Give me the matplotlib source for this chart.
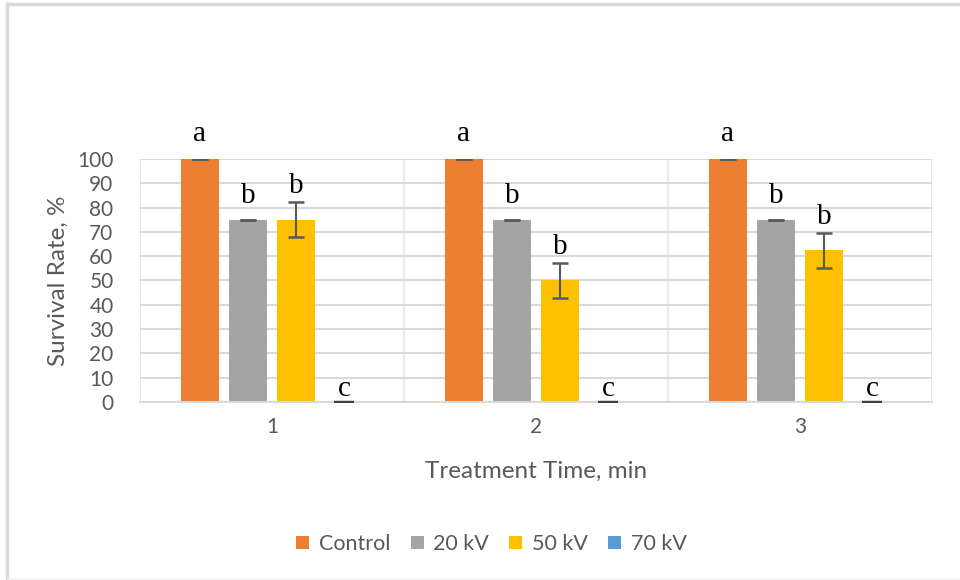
import matplotlib
matplotlib.use("Agg")
import matplotlib.pyplot as plt
from matplotlib.patches import Patch
import numpy as np

categories = ["1", "2", "3"]
series = ["Control", "20 kV", "50 kV", "70 kV"]
control = [100, 100, 100]
kv20 = [75, 75, 75]
kv50 = [75, 50, 62.5]
kv70 = [0, 0, 0]
err_control = [0, 0, 0]
err_kv20 = [0, 0, 0]
err_kv50 = [7.2, 7.2, 7.2]
err_kv70 = [0, 0, 0]
letters_control = ["a", "a", "a"]
letters_kv20 = ["b", "b", "b"]
letters_kv50 = ["b", "b", "b"]
letters_kv70 = ["c", "c", "c"]
yticks = [0, 10, 20, 30, 40, 50, 60, 70, 80, 90, 100]

colors = ["#ED7D31", "#A5A5A5", "#FFC000", "#5B9BD5"]
text_color = "#595959"
grid_color = "#D9D9D9"

plt.rcParams['font.family'] = ['Lato', 'DejaVu Sans']

fig = plt.figure(figsize=(9.6, 5.8), dpi=100)
# outer chart frame
fig.add_artist(plt.Line2D([0.0073, 0.0073], [0, 0.993], color="#D9D9D9", lw=2.5, transform=fig.transFigure))
fig.add_artist(plt.Line2D([0.0073, 1], [0.993, 0.993], color="#D9D9D9", lw=2.5, transform=fig.transFigure))
fig.add_artist(plt.Line2D([0.0073, 1], [0.002, 0.002], color="#EEEEEE", lw=1, transform=fig.transFigure))

ax = fig.add_axes([0.1458, 0.3069, 0.8250, 0.4190])

x = np.arange(1, len(categories) + 1)
width = 0.144
offsets = [-0.273, -0.091, 0.091, 0.273]
vals = [control, kv20, kv50, kv70]
errs = [err_control, err_kv20, err_kv50, err_kv70]
letters = [letters_control, letters_kv20, letters_kv50, letters_kv70]
letter_gap = [7.4, 6.9, 10.8, 2.5]

for i, (v, e, c, s) in enumerate(zip(vals, errs, colors, series)):
    ax.bar(x + offsets[i], v, width, color=c, label=s, zorder=2)
    ax.errorbar(x + offsets[i], v, yerr=e, fmt='none', ecolor=text_color if i < 3 else "#404040",
                elinewidth=1.5, capsize=6 if i < 3 else 7, capthick=1.8 if i < 3 else 1.6, zorder=4)
    for j in range(len(categories)):
        ax.text(x[j] + offsets[i], v[j] + letter_gap[i], letters[i][j], ha='center', va='baseline',
                fontsize=21, family=['Liberation Serif'], color='black', zorder=5)

ax.set_xlim(0.5, 3.5)
ax.set_ylim(0, 100)
ax.set_yticks(yticks)
ax.set_xticks(x)
ax.set_xticklabels(categories)
ax.set_xticks([0.5, 1.5, 2.5, 3.5], minor=True)
ax.grid(axis='y', color=grid_color, lw=1.5, zorder=0)
ax.grid(axis='x', which='minor', color="#EAEAEA", lw=1.5, zorder=0)
for sp in ['top', 'right', 'left']:
    ax.spines[sp].set_visible(False)
ax.spines['bottom'].set_color(grid_color)
ax.spines['bottom'].set_linewidth(1.5)
ax.spines['bottom'].set_zorder(3)
ax.tick_params(axis='both', which='both', length=0, labelsize=15, labelcolor=text_color)
ax.tick_params(axis='x', pad=11)
ax.tick_params(axis='y', pad=19)
ax.set_xlabel("Treatment Time, min", fontsize=17.5, color=text_color, labelpad=17)
ax.set_ylabel("Survival Rate, %", fontsize=17.5, color=text_color, labelpad=6)

handles = [Patch(facecolor=c, edgecolor='none') for c in colors]
fig.legend(handles, series, loc='center', bbox_to_anchor=(0.512, 0.062), ncol=4, frameon=False,
           fontsize=15.5, labelcolor=text_color, handlelength=0.6, handleheight=0.6,
           handletextpad=0.45, columnspacing=0.95)

fig.savefig("out.png", dpi=100, facecolor='white')
